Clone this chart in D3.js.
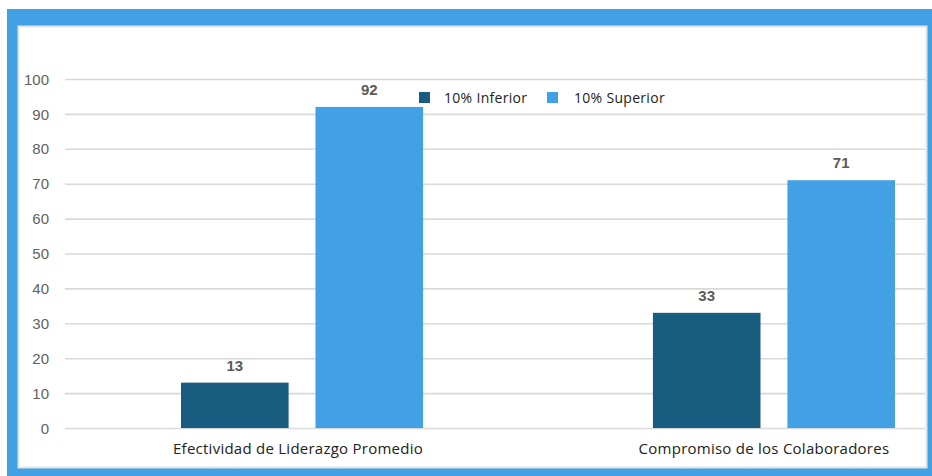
<!DOCTYPE html>
<html>
<head>
<meta charset="utf-8">
<script src="https://cdn.jsdelivr.net/npm/d3@7"></script>
<style>
  html, body { margin: 0; padding: 0; background: #fff; }
  svg { display: block; }
</style>
</head>
<body>
<svg id="chart" width="932" height="476"></svg>
<script>
const categories = ["Efectividad de Liderazgo Promedio", "Compromiso de los Colaboradores"];
const seriesNames = ["10% Inferior", "10% Superior"];
const inferiorValues = [13, 33];
const superiorValues = [92, 71];
const tickValues = [0, 10, 20, 30, 40, 50, 60, 70, 80, 90, 100];
const seriesColors = ["#185d80", "#42a1e4"];

const seriesValues = [inferiorValues, superiorValues];
const svg = d3.select("#chart");

// frame
svg.append("rect").attr("x", 7).attr("y", 9).attr("width", 925).attr("height", 467).attr("fill", "#41a1e4");
svg.append("rect").attr("x", 18.5).attr("y", 26.5).attr("width", 908).attr("height", 441)
  .attr("fill", "#fff").attr("stroke", "#e4e4e4").attr("stroke-width", 2);

const y = d3.scaleLinear().domain([0, 100]).range([428, 79]);
const x0 = d3.scaleBand().domain(categories).range([181, 895]).paddingInner(0.487).paddingOuter(0);
const x1 = d3.scaleBand().domain(seriesNames).range([0, x0.bandwidth()]).paddingInner(0.2).paddingOuter(0);
const color = d3.scaleOrdinal().domain(seriesNames).range(seriesColors);

// grid + y axis
const yAxis = svg.append("g").attr("transform", "translate(65,0)")
  .call(d3.axisLeft(y).tickValues(tickValues).tickSize(-860).tickPadding(16).tickFormat(d3.format("d")));
yAxis.select(".domain").remove();
yAxis.selectAll(".tick line").attr("stroke", "#d9d9d9").attr("stroke-width", 1.6);
yAxis.selectAll(".tick text").attr("fill", "#616161").attr("font-family", "'Liberation Sans', Arial, sans-serif")
  .attr("font-size", 15).attr("dy", "0.34em");

// bars
const groups = svg.append("g").selectAll("g").data(categories).join("g")
  .attr("transform", d => `translate(${x0(d)},0)`);
groups.selectAll("rect")
  .data((c, i) => seriesNames.map((s, j) => ({ s, v: seriesValues[j][i] })))
  .join("rect")
  .attr("x", d => x1(d.s))
  .attr("y", d => y(d.v))
  .attr("width", x1.bandwidth())
  .attr("height", d => y(0) - y(d.v))
  .attr("fill", d => color(d.s));
groups.selectAll("text.val")
  .data((c, i) => seriesNames.map((s, j) => ({ s, v: seriesValues[j][i] })))
  .join("text").attr("class", "val")
  .attr("x", d => x1(d.s) + x1.bandwidth() / 2)
  .attr("y", d => y(d.v) - 12)
  .attr("text-anchor", "middle")
  .attr("fill", "#5a5a5a")
  .attr("font-family", "'Liberation Sans', Arial, sans-serif")
  .attr("font-weight", "bold")
  .attr("font-size", 15)
  .text(d => d.v);

// category labels
svg.append("g").selectAll("text").data(categories).join("text")
  .attr("x", (d, i) => x0(d) + x0.bandwidth() / 2 - (i === 0 ? 4 : 10))
  .attr("y", 454)
  .attr("text-anchor", "middle")
  .attr("fill", "#222")
  .attr("font-family", "'Open Sans', sans-serif")
  .attr("font-size", 15)
  .attr("letter-spacing", 0.25)
  .text(d => d);

// legend
const legendX = [419, 547];
const leg = svg.append("g").selectAll("g").data(seriesNames).join("g")
  .attr("transform", (d, i) => `translate(${legendX[i]},92)`);
leg.append("rect").attr("width", 11).attr("height", 11).attr("fill", d => color(d));
leg.append("text").attr("x", (d, i) => i === 0 ? 25 : 27).attr("y", 10.5)
  .attr("fill", "#222").attr("font-family", "'Open Sans', sans-serif").attr("font-size", 14)
  .attr("letter-spacing", 0.3)
  .text(d => d);
</script>
</body>
</html>
